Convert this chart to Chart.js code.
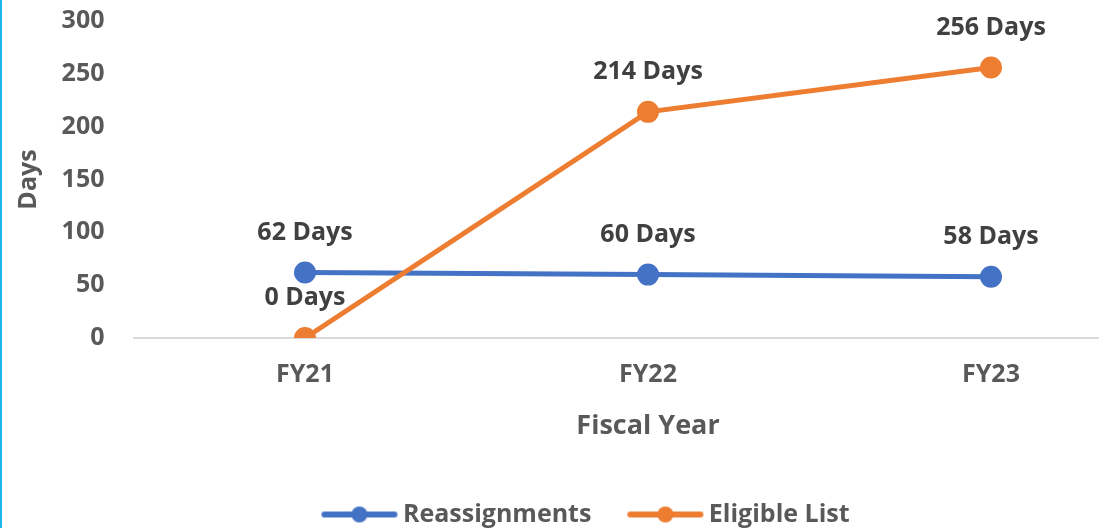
<html>
  <head>
    <title>Days to fill - Reassignments vs Eligible List</title>
    <script src="https://cdn.jsdelivr.net/npm/chart.js@4.4.0/dist/chart.umd.min.js"></script>
  </head>
  <style>
    body {
      margin: 0;
      overflow: hidden;
      background: #fff;
    }
    .wrap {
      border-left: 2px solid #1cb5ec;
      width: 1174px;
      height: 528px;
      overflow: hidden;
    }
  </style>
  <body>
    <div class="wrap">
      <canvas id="myChart" width="1174" height="537"></canvas>
    </div>
  <script>
    // values
    const years = ["FY21", "FY22", "FY23"];
    const reassignments = [62, 60, 58];
    const eligibleList = [0, 214, 256];
    const yTicks = [0, 50, 100, 150, 200, 250, 300];

    const BLUE = "#4472C4";
    const ORANGE = "#ED7D31";
    const TEXT = "#595959";
    const FONT = "'Open Sans', sans-serif";

    // legend marker: line with a dot in the middle
    function legendMarker(color) {
      const c = document.createElement("canvas");
      c.width = 78;
      c.height = 20;
      const g = c.getContext("2d");
      g.strokeStyle = color;
      g.lineWidth = 6;
      g.lineCap = "round";
      g.beginPath();
      g.moveTo(4, 10);
      g.lineTo(74, 10);
      g.stroke();
      g.fillStyle = color;
      g.beginPath();
      g.arc(39, 10, 8, 0, Math.PI * 2);
      g.fill();
      return c;
    }

    // simple "N Days" labels above each point
    const dayLabels = {
      id: "dayLabels",
      afterDatasetsDraw(chart) {
        const ctx = chart.ctx;
        ctx.save();
        ctx.font = "bold 25px " + FONT;
        ctx.fillStyle = "#404040";
        ctx.textAlign = "center";
        ctx.textBaseline = "middle";
        chart.data.datasets.forEach((ds, i) => {
          chart.getDatasetMeta(i).data.forEach((pt, j) => {
            ctx.fillText(ds.data[j] + " Days", pt.x, pt.y - 40);
          });
        });
        ctx.restore();
      }
    };

    const data = {
      labels: years,
      datasets: [
        {
          label: "Reassignments",
          data: reassignments,
          borderColor: BLUE,
          backgroundColor: BLUE,
          borderWidth: 5,
          pointRadius: 8.5,
          pointHoverRadius: 8.5,
          order: 1,
          marker: legendMarker(BLUE),
        },
        {
          label: "Eligible List",
          data: eligibleList,
          borderColor: ORANGE,
          backgroundColor: ORANGE,
          borderWidth: 5,
          pointRadius: 8.5,
          pointHoverRadius: 8.5,
          order: 0,
          marker: legendMarker(ORANGE),
        }
      ]
    };

    const config = {
      type: "line",
      data,
      options: {
        responsive: false,
        animation: false,
        layout: { padding: { top: 21 } },
        plugins: {
          tooltip: { enabled: false },
          legend: {
            position: "bottom",
            labels: {
              usePointStyle: true,
              pointStyleWidth: 62,
              padding: 4,
              color: TEXT,
              font: { family: FONT, size: 25, weight: "bold" },
              generateLabels: (chart) => chart.data.datasets.map((ds, i) => ({
                text: i === 0 ? ds.label + "      " : ds.label,
                fillStyle: ds.borderColor,
                strokeStyle: ds.borderColor,
                lineWidth: 0,
                pointStyle: ds.marker,
                fontColor: TEXT,
                hidden: false,
                datasetIndex: i,
              })),
            },
          },
        },
        scales: {
          x: {
            offset: true,
            grid: { display: false, drawTicks: false },
            border: { display: true, color: "#d9d9d9", width: 2 },
            ticks: {
              color: TEXT,
              padding: 22,
              font: { family: FONT, size: 25, weight: "bold" },
            },
            title: {
              display: true,
              text: "Fiscal Year",
              color: TEXT,
              padding: { top: 0, bottom: 55 },
              font: { family: FONT, size: 27, weight: "bold" },
            },
            afterFit: (scale) => { scale.height = 160; },
          },
          y: {
            min: 0,
            max: 300,
            afterBuildTicks: (scale) => {
              scale.ticks = yTicks.map(v => ({ value: v }));
            },
            grid: { display: false, drawTicks: false },
            border: { display: false },
            ticks: {
              color: TEXT,
              padding: 29,
              font: { family: FONT, size: 25, weight: "bold" },
            },
            title: {
              display: true,
              text: "Days",
              color: TEXT,
              padding: { top: 12, bottom: 0 },
              font: { family: FONT, size: 25, weight: "bold" },
            },
            afterFit: (scale) => {
              scale.width = 131.5;
              // don't reserve room above the top tick label
              scale.paddingTop = 0;
              scale.paddingBottom = 0;
            },
          },
        },
      },
      plugins: [dayLabels],
    };

    const ctx = document.getElementById("myChart");
    const myChart = new Chart(ctx, config);
  </script>
  </body>
</html>
